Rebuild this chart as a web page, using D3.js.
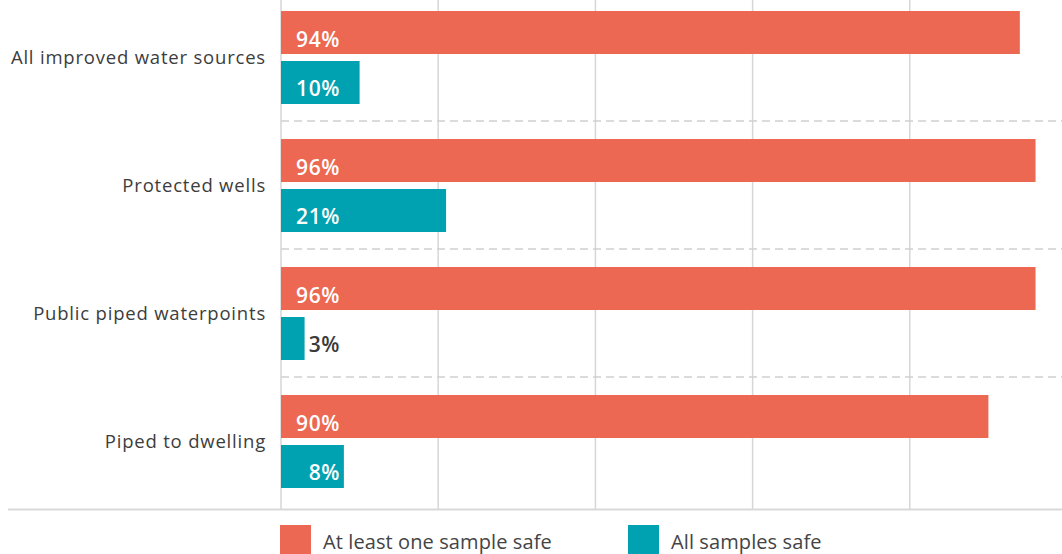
<!DOCTYPE html>
<html>
<head>
<meta charset="utf-8">
<script src="https://cdn.jsdelivr.net/npm/d3@7"></script>
<style>
  html, body { margin: 0; padding: 0; background: #fff; }
  svg { display: block; font-family: "Open Sans", "Lato", sans-serif; }
</style>
</head>
<body>
<svg id="chart" width="1062" height="554"></svg>
<script>
const categories = ["All improved water sources", "Protected wells", "Public piped waterpoints", "Piped to dwelling"];
const seriesNames = ["At least one sample safe", "All samples safe"];
const atLeastOne = [94, 96, 96, 90];
const allSafe = [10, 21, 3, 8];
const gridTicks = [0, 20, 40, 60, 80];
const colors = ["#EC6852", "#00A1B0"];

const svg = d3.select("#chart");
const W = 1062, H = 554;

const x = d3.scaleLinear().domain([0, 100]).range([281, 1067]);
const y0 = d3.scaleBand().domain(categories).range([-7, 505]).paddingInner(0).paddingOuter(0);
const y1 = d3.scaleBand().domain(seriesNames).range([18, 111]).paddingInner(0.14).paddingOuter(0);
const color = d3.scaleOrdinal().domain(seriesNames).range(colors);
const axisY = 509.5;

// vertical grid lines
svg.append("g").selectAll("line").data(gridTicks).join("line")
  .attr("x1", d => x(d)).attr("x2", d => x(d))
  .attr("y1", 0).attr("y2", axisY)
  .attr("stroke", "#d6d6d6").attr("stroke-width", 1.5);

// dashed separators
svg.append("g").selectAll("line").data(categories.slice(1)).join("line")
  .attr("x1", x(0)).attr("x2", W)
  .attr("y1", d => y0(d)).attr("y2", d => y0(d))
  .attr("stroke", "#cfcfcf").attr("stroke-width", 1.3)
  .attr("stroke-dasharray", "8,5");

// bottom axis line
svg.append("line")
  .attr("x1", 8).attr("x2", W).attr("y1", axisY).attr("y2", axisY)
  .attr("stroke", "#d9d9d9").attr("stroke-width", 2);

const rows = categories.map((c, i) => ({ cat: c, values: [
  { s: seriesNames[0], v: atLeastOne[i] },
  { s: seriesNames[1], v: allSafe[i] }
]}));

const groups = svg.append("g").selectAll("g").data(rows).join("g")
  .attr("transform", d => `translate(0,${y0(d.cat)})`);

groups.selectAll("rect").data(d => d.values).join("rect")
  .attr("x", x(0))
  .attr("y", d => y1(d.s))
  .attr("width", d => x(d.v) - x(0))
  .attr("height", y1.bandwidth())
  .attr("fill", d => color(d.s));

groups.selectAll("text.val").data(d => d.values).join("text")
  .attr("class", "val")
  .attr("x", x(0) + 59)
  .attr("y", (d, i) => y1(d.s) + (i === 0 ? 36 : 34.5))
  .attr("text-anchor", "end")
  .attr("font-size", 21)
  .attr("font-weight", 600)
  .attr("letter-spacing", 0.6)
  .attr("fill", d => (x(d.v) - x(0)) > 62 ? "#fff" : "#3a3a3a")
  .text(d => d.v + "%");

// category labels
svg.append("g").selectAll("text").data(categories).join("text")
  .attr("x", 266)
  .attr("y", d => y0(d) + 65)
  .attr("dy", "0.35em")
  .attr("text-anchor", "end")
  .attr("font-size", 18.5)
  .attr("letter-spacing", 0.8)
  .attr("fill", "#3d3d3d")
  .text(d => d);

// legend
const legendX = [280, 628];
const lg = svg.append("g").selectAll("g").data(seriesNames).join("g")
  .attr("transform", (d, i) => `translate(${legendX[i]},525)`);
lg.append("rect").attr("width", 31).attr("height", 31).attr("fill", d => color(d));
lg.append("text").attr("x", 43).attr("y", 24)
  .attr("font-size", 20).attr("letter-spacing", 0.1).attr("fill", "#444").text(d => d);
</script>
</body>
</html>
